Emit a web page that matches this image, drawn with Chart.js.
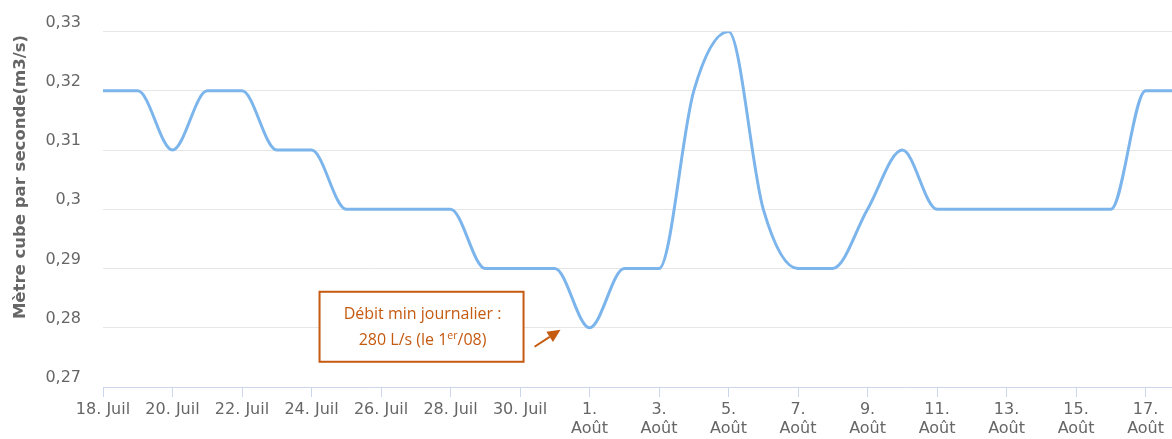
<!DOCTYPE html>
<html>
<head>
<meta charset="utf-8">
<script src="https://cdn.jsdelivr.net/npm/chart.js@4"></script>
<style>
html,body{margin:0;padding:0;background:#fff;}
#wrap{width:1172px;height:439px;}
</style>
</head>
<body>
<div id="wrap"><canvas id="c" width="1172" height="439"></canvas></div>
<script>
// Days from 18 Juil (index 0) to 18 Août (index 31)
const dates = ['18. Juil','19. Juil','20. Juil','21. Juil','22. Juil','23. Juil','24. Juil','25. Juil',
  '26. Juil','27. Juil','28. Juil','29. Juil','30. Juil','31. Juil','1. Août','2. Août','3. Août',
  '4. Août','5. Août','6. Août','7. Août','8. Août','9. Août','10. Août','11. Août','12. Août',
  '13. Août','14. Août','15. Août','16. Août','17. Août','18. Août'];
const debit = [0.32,0.32,0.31,0.32,0.32,0.31,0.31,0.30,0.30,0.30,0.30,0.29,0.29,0.29,0.28,0.29,0.29,
  0.32,0.33,0.30,0.29,0.29,0.30,0.31,0.30,0.30,0.30,0.30,0.30,0.30,0.32,0.32];
const tickDays = [0,2,4,6,8,10,12,14,16,18,20,22,24,26,28,30];
const tickLabels = ['18. Juil','20. Juil','22. Juil','24. Juil','26. Juil','28. Juil','30. Juil',
  ['1.','Août'],['3.','Août'],['5.','Août'],['7.','Août'],['9.','Août'],['11.','Août'],['13.','Août'],
  ['15.','Août'],['17.','Août']];
const yTitle = 'Mètre cube par seconde(m3/s)';
const annotLine1 = 'Débit min journalier :';
const annotLine2 = ['280 L/s (le 1', 'er', '/08)'];
const minDay = 14, minValue = 0.28;

const FONT = '"DejaVu Sans", Verdana, sans-serif';
const ORANGE = '#c55a11';

const extras = {
  id: 'extras',
  afterDraw(chart) {
    const ctx = chart.ctx;
    const xs = chart.scales.x, ys = chart.scales.y;
    // y axis title
    ctx.save();
    ctx.translate(21, 177);
    ctx.rotate(-Math.PI / 2);
    ctx.font = 'bold 16.5px ' + FONT;
    ctx.fillStyle = '#666666';
    ctx.textAlign = 'center';
    ctx.textBaseline = 'middle';
    ctx.fillText(yTitle, 0, 0);
    ctx.restore();

    // annotation
    const px = xs.getPixelForValue(minDay), py = ys.getPixelForValue(minValue);
    ctx.save();
    ctx.strokeStyle = ORANGE;
    ctx.lineWidth = 2;
    ctx.fillStyle = '#ffffff';
    const bx = px - 270, by = py - 36, bw = 204, bh = 70;
    ctx.fillRect(bx, by, bw, bh);
    ctx.strokeRect(bx, by, bw, bh);
    ctx.fillStyle = ORANGE;
    ctx.textBaseline = 'middle';
    ctx.textAlign = 'center';
    ctx.font = '16px "Open Sans", sans-serif';
    const cx = bx + bw / 2 + 1;
    ctx.fillText(annotLine1, cx, py - 13);
    ctx.textAlign = 'left';
    const f1 = '16px "Open Sans", sans-serif', f2 = '10.5px "Open Sans", sans-serif';
    ctx.font = f1; const w1 = ctx.measureText(annotLine2[0]).width;
    ctx.font = f2; const w2 = ctx.measureText(annotLine2[1]).width;
    ctx.font = f1; const w3 = ctx.measureText(annotLine2[2]).width;
    let tx = cx - (w1 + w2 + w3) / 2;
    const ly = py + 13;
    ctx.font = f1; ctx.fillText(annotLine2[0], tx, ly); tx += w1;
    ctx.font = f2; ctx.fillText(annotLine2[1], tx, ly - 5); tx += w2;
    ctx.font = f1; ctx.fillText(annotLine2[2], tx, ly);
    // arrow
    const ax0 = px - 55, ay0 = py + 19, ax1 = px - 29, ay1 = py + 2;
    const ang = Math.atan2(ay1 - ay0, ax1 - ax0);
    const hl = 13, hw = 6;
    const bxh = ax1 - hl * Math.cos(ang), byh = ay1 - hl * Math.sin(ang);
    ctx.beginPath();
    ctx.moveTo(ax0, ay0); ctx.lineTo(bxh, byh);
    ctx.lineWidth = 2; ctx.stroke();
    ctx.beginPath();
    ctx.moveTo(ax1, ay1);
    ctx.lineTo(bxh + hw * Math.sin(ang), byh - hw * Math.cos(ang));
    ctx.lineTo(bxh - hw * Math.sin(ang), byh + hw * Math.cos(ang));
    ctx.closePath(); ctx.fill();
    ctx.restore();
  }
};

new Chart(document.getElementById('c'), {
  type: 'line',
  data: {
    datasets: [{
      data: debit.map((v, i) => ({x: i, y: v})),
      borderColor: '#7cb5ec',
      borderWidth: 3,
      pointRadius: 0,
      fill: false,
      cubicInterpolationMode: 'monotone',
      tension: 0.4
    }]
  },
  options: {
    responsive: false,
    animation: false,
    devicePixelRatio: 1,
    layout: {padding: {top: 30, right: 0, left: 0, bottom: 0}},
    plugins: {legend: {display: false}, tooltip: {enabled: false}},
    scales: {
      x: {
        type: 'linear',
        min: 0,
        max: 30.76,
        afterBuildTicks(scale) { scale.ticks = tickDays.map(v => ({value: v})); },
        afterFit(scale) { scale.height = 52; },
        grid: {display: true, drawOnChartArea: false, drawTicks: true, tickLength: 10, color: '#ccd6eb', lineWidth: 1},
        border: {display: true, color: '#ccd6eb', width: 1},
        ticks: {
          autoSkip: false, maxRotation: 0, padding: 3,
          color: '#666666', font: {family: FONT, size: 16},
          callback(v) { const i = tickDays.indexOf(v); return i >= 0 ? tickLabels[i] : ''; }
        }
      },
      y: {
        min: 0.27,
        max: 0.33,
        afterFit(scale) { scale.width = 103; },
        grid: {drawTicks: false, color: (c) => (c.tick && Math.abs(c.tick.value - 0.27) < 1e-6) ? 'rgba(0,0,0,0)' : '#e6e6e6', lineWidth: 1},
        border: {display: false},
        ticks: {
          stepSize: 0.01, padding: 22, labelOffset: -9,
          color: '#666666', font: {family: FONT, size: 16},
          callback(v) { return Number(v.toFixed(2)).toString().replace('.', ','); }
        }
      }
    }
  },
  plugins: [extras]
});
</script>
</body>
</html>
